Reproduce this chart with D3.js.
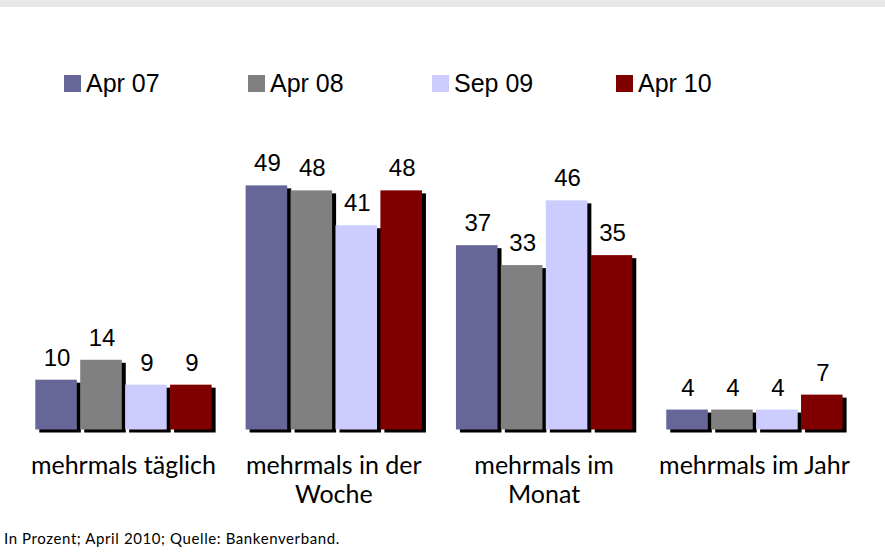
<!DOCTYPE html>
<html>
<head>
<meta charset="utf-8">
<script src="https://cdn.jsdelivr.net/npm/d3@7"></script>
<style>
    body { margin: 0; background: #fff; }
    svg { display: block; }
</style>
</head>
<body>
<script>
const categories = [
    ["mehrmals täglich"],
    ["mehrmals in der", "Woche"],
    ["mehrmals im", "Monat"],
    ["mehrmals im Jahr"],
];
const seriesNames = ["Apr 07", "Apr 08", "Sep 09", "Apr 10"];
const apr07 = [10, 49, 37, 4];
const apr08 = [14, 48, 33, 4];
const sep09 = [9, 41, 46, 4];
const apr10 = [9, 48, 35, 7];
const footnote = "In Prozent; April 2010; Quelle: Bankenverband.";

window.onload = initPage;

function initPage() {
    const svgInfo = { SVG_WIDTH: 885, SVG_HEIGHT: 553, SVG_ID: "svgVis" };
    const svg = d3.select("body")
        .append("svg")
        .attr("width", svgInfo.SVG_WIDTH)
        .attr("height", svgInfo.SVG_HEIGHT)
        .attr("id", svgInfo.SVG_ID);

    // top grey strip
    svg.append("rect")
        .attr("x", 0).attr("y", 0)
        .attr("width", svgInfo.SVG_WIDTH).attr("height", 7)
        .attr("fill", "#e8e8e8");

    const colors = d3.scaleOrdinal()
        .domain(seriesNames)
        .range(["#666699", "#808080", "#ccccff", "#800000"]);

    const allSeries = [apr07, apr08, sep09, apr10];
    const groupIds = categories.map((c, i) => i);

    const x0 = d3.scaleBand()
        .domain(groupIds)
        .range([18.3, 859.6]);
    const x1 = d3.scaleBand()
        .domain(seriesNames)
        .range([17, x0.bandwidth() - 17])
        .paddingInner(0.075);
    const y = d3.scaleLinear()
        .domain([0, 50])
        .range([429.5, 180.4]);

    const data = [];
    groupIds.forEach((g) => {
        seriesNames.forEach((s, si) => {
            data.push({ group: g, series: s, value: allSeries[si][g] });
        });
    });

    const shadow = svg.append("g");
    shadow.selectAll("rect")
        .data(data)
        .enter()
        .append("rect")
        .attr("x", (d) => x0(d.group) + x1(d.series) + 4)
        .attr("y", (d) => y(d.value) + 3)
        .attr("width", x1.bandwidth())
        .attr("height", (d) => y(0) - y(d.value))
        .attr("fill", "#000");

    const bars = svg.append("g");
    bars.selectAll("rect")
        .data(data)
        .enter()
        .append("rect")
        .attr("x", (d) => x0(d.group) + x1(d.series))
        .attr("y", (d) => y(d.value))
        .attr("width", x1.bandwidth())
        .attr("height", (d) => y(0) - y(d.value))
        .attr("fill", (d) => colors(d.series));

    svg.append("g")
        .selectAll("text")
        .data(data)
        .enter()
        .append("text")
        .attr("x", (d) => x0(d.group) + x1(d.series) + x1.bandwidth() / 2 + 1)
        .attr("y", (d) => y(d.value) - 14)
        .attr("text-anchor", "middle")
        .style("font-family", "'Liberation Sans', Arial, sans-serif")
        .style("font-size", "24px")
        .attr("fill", "#000")
        .text((d) => d.value);

    // category labels
    const catG = svg.append("g");
    categories.forEach((lines, i) => {
        const t = catG.append("text")
            .attr("x", x0(i) + x0.bandwidth() / 2)
            .attr("y", 474)
            .attr("text-anchor", "middle")
            .style("font-family", "Lato, sans-serif")
            .style("font-size", "25px")
            .attr("fill", "#000");
        lines.forEach((line, li) => {
            t.append("tspan")
                .attr("x", x0(i) + x0.bandwidth() / 2)
                .attr("dy", li === 0 ? 0 : 29)
                .text(line);
        });
    });

    // legend
    const legendX = d3.scalePoint()
        .domain(seriesNames)
        .range([64, 616]);
    const legend = svg.append("g")
        .selectAll("g")
        .data(seriesNames)
        .enter()
        .append("g")
        .attr("transform", (d) => `translate(${legendX(d)},75)`);
    legend.append("rect")
        .attr("width", 17)
        .attr("height", 17)
        .attr("fill", (d) => colors(d));
    legend.append("text")
        .attr("x", 22)
        .attr("y", 17)
        .style("font-family", "'Liberation Sans', Arial, sans-serif")
        .style("font-size", "25px")
        .attr("fill", "#000")
        .text((d) => d);

    svg.append("text")
        .attr("x", 4)
        .attr("y", 544)
        .style("font-family", "Lato, sans-serif")
        .style("font-size", "15px")
        .style("letter-spacing", "0.6px")
        .attr("fill", "#000")
        .text(footnote);
}
</script>
</body>
</html>
